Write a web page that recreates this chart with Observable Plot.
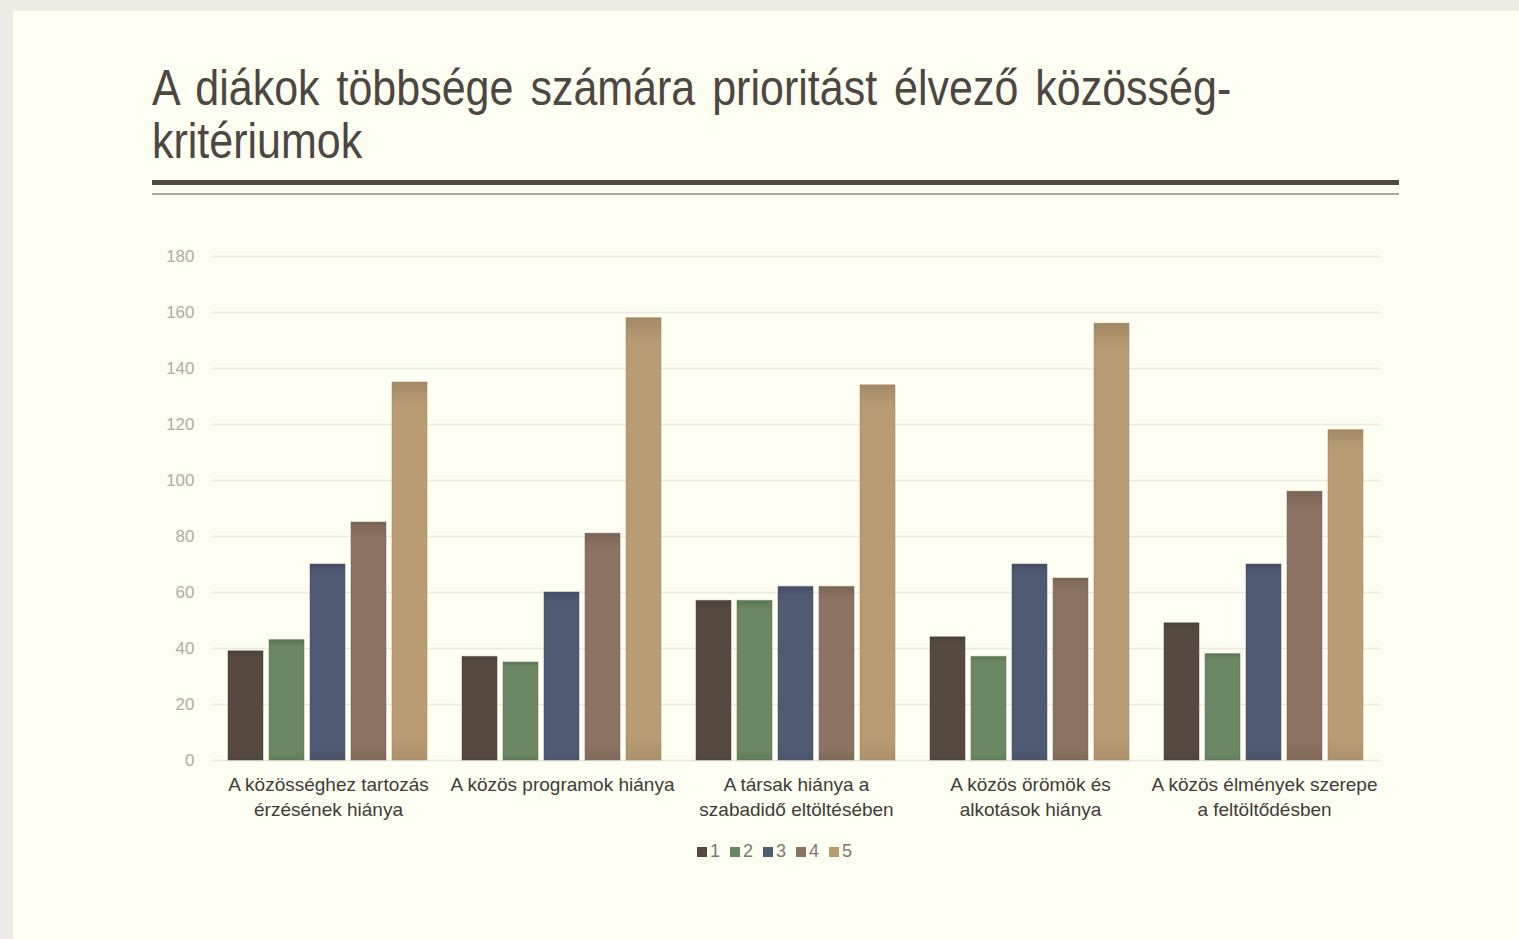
<!DOCTYPE html>
<html>
<head>
<meta charset="utf-8">
<script src="https://cdn.jsdelivr.net/npm/d3@7"></script>
<script src="https://cdn.jsdelivr.net/npm/@observablehq/plot@0.6"></script>
<style>
  html, body { margin: 0; padding: 0; }
  body { width: 1519px; height: 939px; background: #edebe3; position: relative; overflow: hidden; font-family: "Liberation Sans", Arial, sans-serif; }
  #panel { position: absolute; left: 13px; top: 11px; width: 1506px; height: 928px; background: #fefef2; }
  .title { position: absolute; left: 152px; font-size: 43px; line-height: 43px; color: #4d4641; white-space: nowrap; transform: scaleY(1.15); transform-origin: 0 36px; }
  #t1 { top: 69px; word-spacing: 5px; }
  #t2 { top: 122px; }
  .rule { position: absolute; left: 152px; width: 1247px; }
  #r1 { top: 180px; height: 5px; background: #514944; }
  #r2 { top: 193px; height: 2px; background: #aaa89c; }
  #chart { position: absolute; left: 0; top: 220px; }
  #legend { position: absolute; top: 841px; left: 697px; display: flex; gap: 10px; font-size: 18px; color: #7b7872; }
  #legend .item { display: flex; align-items: center; gap: 3px; }
  #legend .sw { width: 10px; height: 10px; display: inline-block; }
</style>
</head>
<body>
<div id="panel"></div>
<div class="title" id="t1">A diákok többsége számára prioritást élvező közösség-</div>
<div class="title" id="t2">kritériumok</div>
<div class="rule" id="r1"></div>
<div class="rule" id="r2"></div>
<div id="chart"></div>
<div id="legend"></div>
<script>
// Categories (x-axis tick labels)
const categories = [
  "A közösséghez tartozás\nérzésének hiánya",
  "A közös programok hiánya",
  "A társak hiánya a\nszabadidő eltöltésében",
  "A közös örömök és\nalkotások hiánya",
  "A közös élmények szerepe\na feltöltődésben"
];
// Series names
const series = ["1", "2", "3", "4", "5"];
// Series values (one per category)
const s1 = [39, 37, 57, 44, 49];
const s2 = [43, 35, 57, 37, 38];
const s3 = [70, 60, 62, 70, 70];
const s4 = [85, 81, 62, 65, 96];
const s5 = [135, 158, 134, 156, 118];
// y tick labels
const yTicks = [0, 20, 40, 60, 80, 100, 120, 140, 160, 180];
// Colours
const colors = ["#564a40", "#6b8763", "#4f5b73", "#8b7262", "#b99c73"];

const seriesValues = [s1, s2, s3, s4, s5];
const data = categories.flatMap((c, i) =>
  seriesValues.map((s, j) => ({ cat: c, series: series[j], value: s[i] }))
);

function shade(hex, k) {
  return d3.color(hex).darker(k).formatHex();
}

const defs = () => {
  const ns = "http://www.w3.org/2000/svg";
  const d = document.createElementNS(ns, "defs");
  colors.forEach((col, i) => {
    const g = document.createElementNS(ns, "linearGradient");
    g.setAttribute("id", "grad" + i);
    g.setAttribute("x1", "0"); g.setAttribute("y1", "0");
    g.setAttribute("x2", "0"); g.setAttribute("y2", "1");
    [[0, shade(col, 0.35)], [0.06, col], [0.94, col], [1, shade(col, 0.2)]].forEach(([o, c]) => {
      const s = document.createElementNS(ns, "stop");
      s.setAttribute("offset", o);
      s.setAttribute("stop-color", c);
      g.appendChild(s);
    });
    d.appendChild(g);
  });
  return d;
};

const barMarks = series.map((s, i) =>
  Plot.barY(data.filter(d => d.series === s), {
    fx: "cat", x: "series", y: "value",
    fill: `url(#grad${i})`,
    stroke: shade(colors[i], 0.6),
    strokeOpacity: 0.45,
    strokeWidth: 1
  })
);

const chart = Plot.plot({
  width: 1519,
  height: 620,
  marginLeft: 210,
  marginRight: 137,
  marginTop: 36,
  marginBottom: 80,
  style: { background: "transparent", fontFamily: "'Liberation Sans', Arial, sans-serif", overflow: "visible" },
  fx: { domain: categories, padding: 0, label: null },
  x: { domain: series, paddingInner: 0.145, paddingOuter: 0.397, axis: null },
  y: { domain: [0, 180], label: null },
  color: { domain: series, range: colors },
  marks: [
    defs,
    Plot.gridY(yTicks, { stroke: "#ebe8de", strokeOpacity: 1, strokeWidth: 1.5 }),
    Plot.axisY(yTicks, { tickSize: 0, tickPadding: 17, fontSize: 17, fill: "#b2aca2", label: null }),
    Plot.axisFx({ anchor: "bottom", tickSize: 0, tickPadding: 13, fontSize: 19, lineHeight: 1.3, fill: "#3f3c38", label: null }),
    ...barMarks
  ]
});
document.getElementById("chart").appendChild(chart);

const legend = document.getElementById("legend");
series.forEach((s, i) => {
  const item = document.createElement("span");
  item.className = "item";
  const sw = document.createElement("span");
  sw.className = "sw";
  sw.style.background = colors[i];
  const lab = document.createElement("span");
  lab.textContent = s;
  item.appendChild(sw);
  item.appendChild(lab);
  legend.appendChild(item);
});
</script>
</body>
</html>
